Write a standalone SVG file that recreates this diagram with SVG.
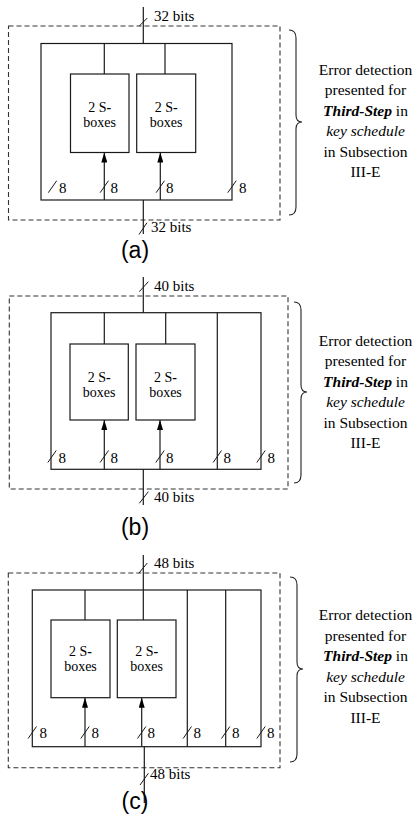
<svg xmlns="http://www.w3.org/2000/svg" width="414" height="817" viewBox="0 0 414 817">
<style>
.bg{fill:#fff}
.dash{fill:none;stroke:#333;stroke-width:1.1;stroke-dasharray:5,3}
.frame{fill:none;stroke:#1a1a1a;stroke-width:1.2}
.ln{stroke:#1a1a1a;stroke-width:1.2;fill:none}
.arr{stroke:#1a1a1a;stroke-width:1.2;fill:none;marker-end:url(#ah)}
.sl{stroke:#1a1a1a;stroke-width:1}
.box{fill:#fff;stroke:#1a1a1a;stroke-width:1.2}
.t{font-family:"Liberation Serif","Times New Roman",serif;font-size:15px;fill:#000}
.bt{font-family:"Liberation Serif","Times New Roman",serif;font-size:14px;fill:#000;text-anchor:middle}
.rt{font-family:"Liberation Serif","Times New Roman",serif;font-size:15.5px;fill:#000;text-anchor:middle}
.cap{font-family:"Liberation Sans",Arial,sans-serif;font-size:23px;fill:#000;text-anchor:middle}
.brace{fill:none;stroke:#222;stroke-width:1.1}
</style>
<defs>
<marker id="ah" viewBox="0 0 10 6" refX="10" refY="3" markerWidth="10" markerHeight="6" orient="auto" markerUnits="userSpaceOnUse">
<path d="M0,0 L10,3 L0,6 z" fill="#000"/>
</marker>
</defs>
<rect class="bg" x="0" y="0" width="414" height="817"/>

<!-- Panel (a) -->
<g id="panel-a">
<rect id="a-dashed" class="dash" x="8.5" y="26" width="271.5" height="194"/>
<g id="a-frame"><rect class="frame" x="41" y="43.5" width="191" height="156.5"/></g>
<g id="a-box1"><rect class="box" x="70.5" y="74" width="58.5" height="78.5"/><text class="bt" x="99.7" y="112">2 S<tspan font-weight="bold">-</tspan></text><text class="bt" x="99.7" y="127">boxes</text></g>
<g id="a-box2"><rect class="box" x="136.7" y="74" width="59" height="78.5"/><text class="bt" x="166.2" y="112">2 S<tspan font-weight="bold">-</tspan></text><text class="bt" x="166.2" y="127">boxes</text></g>
<g id="a-connectors">
<line class="ln" x1="143.3" y1="7" x2="143.3" y2="43.5"/>
<line class="ln" x1="104.3" y1="43.5" x2="104.3" y2="74"/>
<line class="ln" x1="165" y1="43.5" x2="165" y2="74"/>
<line class="arr" x1="104.3" y1="200" x2="104.3" y2="152.5"/>
<line class="arr" x1="160.3" y1="200" x2="160.3" y2="152.5"/>
<line class="ln" x1="143.3" y1="200" x2="143.3" y2="234"/>
<line class="sl" x1="139.3" y1="26" x2="147.3" y2="18"/>
<line class="sl" x1="139" y1="234.5" x2="147" y2="222.7"/>
<line class="sl" x1="48.3" y1="192.7" x2="56.7" y2="180.7"/>
<line class="sl" x1="100.1" y1="192.7" x2="108.5" y2="180.7"/>
<line class="sl" x1="156.1" y1="192.7" x2="164.5" y2="180.7"/>
<line class="sl" x1="227.8" y1="192.7" x2="236.2" y2="180.7"/>
</g>
<g id="a-labels">
<text class="t" x="154" y="21">32 bits</text>
<text class="t" x="151" y="232">32 bits</text>
<text class="t" x="59" y="192.5">8</text>
<text class="t" x="110.5" y="192.5">8</text>
<text class="t" x="166" y="192.5">8</text>
<text class="t" x="239" y="192.5">8</text>
<text class="cap" x="135" y="258">(a)</text>
</g>
<g id="a-note">
<path class="brace" d="M289,30 Q296,30 296,38 L296,115 Q296,122 302,122 Q296,122 296,129 L296,207 Q296,215 289,215"/>
<text class="rt" x="365.5" y="74.5">Error detection</text>
<text class="rt" x="365.5" y="95">presented for</text>
<text class="rt" x="365.5" y="115.5"><tspan font-weight="bold" font-style="italic">Third-Step</tspan> in</text>
<text class="rt" x="365.5" y="136" font-style="italic">key schedule</text>
<text class="rt" x="365.5" y="156.5">in Subsection</text>
<text class="rt" x="365.5" y="177">III-E</text>
</g>
</g>

<!-- Panel (b) -->
<g id="panel-b">
<rect id="b-dashed" class="dash" x="9.3" y="296" width="278.7" height="193"/>
<g id="b-frame"><rect class="frame" x="51" y="312.7" width="210" height="156.6"/></g>
<g id="b-box1"><rect class="box" x="70" y="344" width="58.3" height="76"/><text class="bt" x="99.2" y="381.5">2 S<tspan font-weight="bold">-</tspan></text><text class="bt" x="99.2" y="396.5">boxes</text></g>
<g id="b-box2"><rect class="box" x="136" y="344" width="59" height="76"/><text class="bt" x="165.5" y="381.5">2 S<tspan font-weight="bold">-</tspan></text><text class="bt" x="165.5" y="396.5">boxes</text></g>
<g id="b-connectors">
<line class="ln" x1="143.3" y1="277" x2="143.3" y2="312.7"/>
<line class="ln" x1="104.3" y1="312.7" x2="104.3" y2="344"/>
<line class="ln" x1="165.7" y1="312.7" x2="165.7" y2="344"/>
<line class="ln" x1="217.3" y1="312.7" x2="217.3" y2="469.3"/>
<line class="arr" x1="104.3" y1="469.3" x2="104.3" y2="420"/>
<line class="arr" x1="160" y1="469.3" x2="160" y2="420"/>
<line class="ln" x1="143.3" y1="469.3" x2="143.3" y2="505"/>
<line class="sl" x1="139.3" y1="291.7" x2="148.3" y2="281.7"/>
<line class="sl" x1="139.3" y1="503.3" x2="148.3" y2="491.7"/>
<line class="sl" x1="47.8" y1="462.5" x2="56.2" y2="450.5"/>
<line class="sl" x1="100.1" y1="462.5" x2="108.5" y2="450.5"/>
<line class="sl" x1="155.8" y1="462.5" x2="164.2" y2="450.5"/>
<line class="sl" x1="213.1" y1="462.5" x2="221.5" y2="450.5"/>
<line class="sl" x1="256.8" y1="462.5" x2="265.2" y2="450.5"/>
</g>
<g id="b-labels">
<text class="t" x="154" y="290.5">40 bits</text>
<text class="t" x="154" y="502">40 bits</text>
<text class="t" x="58.5" y="462.5">8</text>
<text class="t" x="110.5" y="462.5">8</text>
<text class="t" x="166" y="462.5">8</text>
<text class="t" x="223.5" y="462.5">8</text>
<text class="t" x="267.5" y="462.5">8</text>
<text class="cap" x="135" y="535">(b)</text>
</g>
<g id="b-note">
<path class="brace" d="M294,302 Q301,302 301,310 L301,385 Q301,392 307,392 Q301,392 301,399 L301,475 Q301,483 294,483"/>
<text class="rt" x="365.5" y="345.5">Error detection</text>
<text class="rt" x="365.5" y="366">presented for</text>
<text class="rt" x="365.5" y="386.5"><tspan font-weight="bold" font-style="italic">Third-Step</tspan> in</text>
<text class="rt" x="365.5" y="407" font-style="italic">key schedule</text>
<text class="rt" x="365.5" y="427.5">in Subsection</text>
<text class="rt" x="365.5" y="448">III-E</text>
</g>
</g>

<!-- Panel (c) -->
<g id="panel-c">
<rect id="c-dashed" class="dash" x="8.3" y="573" width="271.7" height="194.7"/>
<g id="c-frame"><rect class="frame" x="32.3" y="590" width="228.7" height="156.7"/></g>
<g id="c-box1"><rect class="box" x="51" y="620" width="59" height="77.7"/><text class="bt" x="80.5" y="656">2 S<tspan font-weight="bold">-</tspan></text><text class="bt" x="80.5" y="671">boxes</text></g>
<g id="c-box2"><rect class="box" x="117.3" y="620" width="58.7" height="77.7"/><text class="bt" x="146.7" y="656">2 S<tspan font-weight="bold">-</tspan></text><text class="bt" x="146.7" y="671">boxes</text></g>
<g id="c-connectors">
<line class="ln" x1="143.3" y1="555" x2="143.3" y2="620"/>
<line class="ln" x1="85" y1="590" x2="85" y2="620"/>
<line class="ln" x1="187.3" y1="590" x2="187.3" y2="746.7"/>
<line class="ln" x1="225.7" y1="590" x2="225.7" y2="746.7"/>
<line class="arr" x1="85" y1="746.7" x2="85" y2="697.7"/>
<line class="arr" x1="141.7" y1="746.7" x2="141.7" y2="697.7"/>
<line class="ln" x1="144.3" y1="746.7" x2="144.3" y2="803"/>
<line class="sl" x1="139" y1="573" x2="147.3" y2="563"/>
<line class="sl" x1="140" y1="785" x2="148.3" y2="773.3"/>
<line class="sl" x1="28.1" y1="738.5" x2="36.5" y2="726.5"/>
<line class="sl" x1="80.8" y1="738.5" x2="89.2" y2="726.5"/>
<line class="sl" x1="137.5" y1="738.5" x2="145.9" y2="726.5"/>
<line class="sl" x1="183.1" y1="738.5" x2="191.5" y2="726.5"/>
<line class="sl" x1="221.5" y1="738.5" x2="229.9" y2="726.5"/>
<line class="sl" x1="256.8" y1="738.5" x2="265.2" y2="726.5"/>
</g>
<g id="c-labels">
<text class="t" x="154" y="568">48 bits</text>
<text class="t" x="150" y="779">48 bits</text>
<text class="t" x="39.5" y="738">8</text>
<text class="t" x="91.5" y="738">8</text>
<text class="t" x="147.5" y="738">8</text>
<text class="t" x="193.5" y="738">8</text>
<text class="t" x="232" y="738">8</text>
<text class="t" x="267" y="738">8</text>
<text class="cap" x="135" y="809">(c)</text>
</g>
<g id="c-note">
<path class="brace" d="M290,577 Q297,577 297,585 L297,662 Q297,669 303,669 Q297,669 297,676 L297,754 Q297,762 290,762"/>
<text class="rt" x="365.5" y="620">Error detection</text>
<text class="rt" x="365.5" y="640.5">presented for</text>
<text class="rt" x="365.5" y="661"><tspan font-weight="bold" font-style="italic">Third-Step</tspan> in</text>
<text class="rt" x="365.5" y="681.5" font-style="italic">key schedule</text>
<text class="rt" x="365.5" y="702">in Subsection</text>
<text class="rt" x="365.5" y="722.5">III-E</text>
</g>
</g>
</svg>
